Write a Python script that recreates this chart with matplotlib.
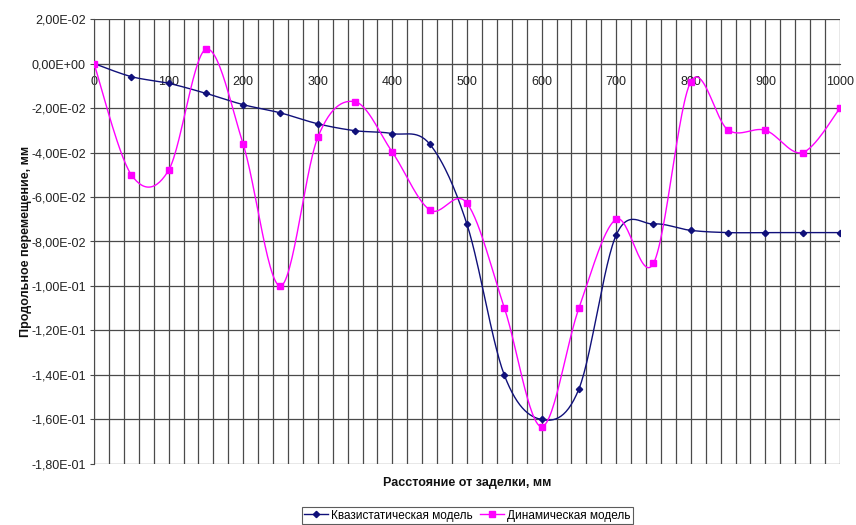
import numpy as np
import matplotlib
matplotlib.use("Agg")
import matplotlib.pyplot as plt
from matplotlib.ticker import FuncFormatter, MultipleLocator
from matplotlib.lines import Line2D

plt.rcParams['font.family'] = ['Liberation Sans', 'DejaVu Sans']

distance = [0, 50, 100, 150, 200, 250, 300, 350, 400, 450, 500,
            550, 600, 650, 700, 750, 800, 850, 900, 950, 1000]
quasi_static = [0.0, -0.0059, -0.0089, -0.0134, -0.0185, -0.0222, -0.0271, -0.0302,
                -0.0315, -0.0362, -0.0723, -0.1400, -0.1600, -0.1463, -0.0771,
                -0.0721, -0.0750, -0.0760, -0.0760, -0.0760, -0.0760]
dynamic = [0.0, -0.0500, -0.0480, 0.0064, -0.0363, -0.1000, -0.0332, -0.0172,
           -0.0399, -0.0658, -0.0628, -0.1097, -0.1632, -0.1100, -0.0700,
           -0.0898, -0.0082, -0.0299, -0.0300, -0.0400, -0.0201]

series_names = ['Квазистатическая модель', 'Динамическая модель']
x_label = 'Расстояние от заделки, мм'
y_label = 'Продольное перемещение, мм'


def smooth(x, y, n=30):
    """Excel-like smoothed line (Catmull-Rom Bezier) through the points."""
    P = np.column_stack([x, y]).astype(float)
    P_ext = np.vstack([P[0], P, P[-1]])
    out = []
    t = np.linspace(0, 1, n)[:, None]
    for i in range(len(P) - 1):
        p0, p1, p2, p3 = P_ext[i], P_ext[i + 1], P_ext[i + 2], P_ext[i + 3]
        b1 = p1 + (p2 - p0) / 6.0
        b2 = p2 - (p3 - p1) / 6.0
        seg = ((1 - t) ** 3) * p1 + 3 * ((1 - t) ** 2) * t * b1 + 3 * (1 - t) * t ** 2 * b2 + t ** 3 * p2
        out.append(seg if i == 0 else seg[1:])
    s = np.vstack(out)
    return s[:, 0], s[:, 1]


fig = plt.figure(figsize=(8.56, 5.25), dpi=100)
ax = fig.add_axes([0.1098, 0.1162, 0.9813 - 0.1098, 0.9638 - 0.1162])

navy = '#10107a'
mag = '#ff00ff'

sx, sy = smooth(distance, quasi_static)
ax.plot(sx, sy, color=navy, lw=1.0, zorder=3)
ax.plot(distance, quasi_static, ls='none', marker='D', ms=3.2, color=navy, zorder=4)

dx, dy = smooth(distance, dynamic)
ax.plot(dx, dy, color=mag, lw=1.0, zorder=3)
ax.plot(distance, dynamic, ls='none', marker='s', ms=4.2, color=mag, zorder=4)

ax.set_xlim(0, 1000)
ax.set_ylim(-0.18, 0.02)
ax.yaxis.set_major_locator(MultipleLocator(0.02))
ax.xaxis.set_major_locator(MultipleLocator(100))
ax.xaxis.set_minor_locator(MultipleLocator(20))


def yfmt(v, pos):
    v = round(v, 6)
    if v == 0:
        return '0,00E+00'
    s = '%.2E' % v
    return s.replace('.', ',')


ax.yaxis.set_major_formatter(FuncFormatter(yfmt))

grid_c = '#4a4a4a'
ax.grid(True, which='both', axis='x', color=grid_c, lw=0.9)
ax.grid(True, which='major', axis='y', color=grid_c, lw=0.9)
ax.set_axisbelow(True)

for sp in ['top', 'right']:
    ax.spines[sp].set_visible(False)
ax.spines['left'].set_color(grid_c)
ax.spines['bottom'].set_position(('data', 0))
ax.spines['bottom'].set_color(grid_c)

ax.tick_params(axis='x', which='both', length=0, pad=9, labelsize=9, colors='#222222')
ax.tick_params(axis='y', length=3, width=0.8, color=grid_c, labelsize=9, labelcolor='#222222', pad=3)

fig.text(0.546, 0.080, x_label, ha='center', va='center', fontsize=9, fontweight='bold', color='#111111')
fig.text(0.030, 0.54, y_label, ha='center', va='center', rotation=90, fontsize=9, fontweight='bold', color='#111111')

handles = [Line2D([], [], color=navy, lw=1.0, marker='D', ms=3.2),
           Line2D([], [], color=mag, lw=1.0, marker='s', ms=4.2)]
leg = fig.legend(handles, series_names, loc='center', bbox_to_anchor=(0.546, 0.018),
                 ncol=2, fontsize=8.5, frameon=True, fancybox=False, handlelength=2.0,
                 handletextpad=0.3, columnspacing=0.6, borderpad=0.2)
leg.get_frame().set_edgecolor('#333333')
leg.get_frame().set_linewidth(0.8)

fig.savefig('out.png', dpi=100)
